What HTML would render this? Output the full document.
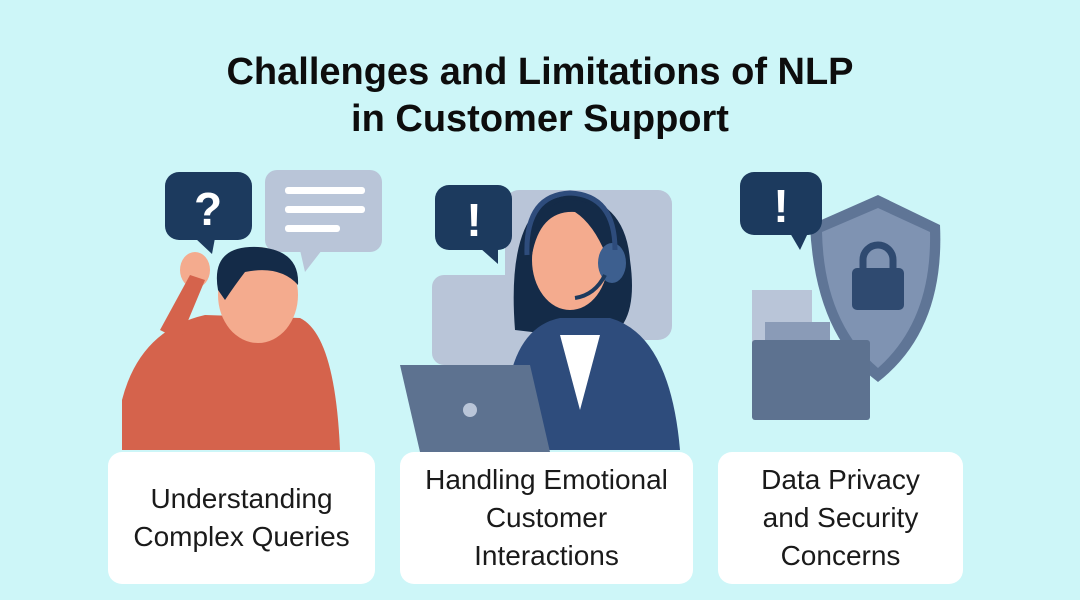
<!DOCTYPE html>
<html><head><meta charset="utf-8"><style>
html,body{margin:0;padding:0}
body{width:1080px;height:600px;background:#cdf6f8;position:relative;overflow:hidden;font-family:"Liberation Sans",sans-serif}
h1{position:absolute;top:49px;left:0;width:1080px;margin:0;text-align:center;font-size:38px;line-height:47px;font-weight:bold;color:#0d0d0d}
.card{position:absolute;top:452px;height:132px;background:#fff;border-radius:14px;display:flex;align-items:center;justify-content:center;text-align:center;font-size:28px;line-height:38px;color:#1a1a1a}
svg{position:absolute;left:0;top:0}
</style></head><body>
<svg width="1080" height="600">
<rect x="265" y="170" width="117" height="82" rx="12" fill="#b9c5d8"/>
<polygon points="300,250 322,250 305,272" fill="#b9c5d8"/>
<rect x="285" y="187" width="80" height="7" rx="3" fill="#fff"/>
<rect x="285" y="206" width="80" height="7" rx="3" fill="#fff"/>
<rect x="285" y="225" width="55" height="7" rx="3" fill="#fff"/>
<rect x="165" y="172" width="87" height="68" rx="14" fill="#1c3a5e"/>
<polygon points="195,238 215,238 212,254" fill="#1c3a5e"/>
<text x="208" y="225" font-size="46" font-weight="bold" fill="#fff" text-anchor="middle" font-family="Liberation Sans">?</text>
<path d="M122,400 Q140,330 205,315 L300,318 Q335,335 340,450 L122,450 Z" fill="#d5634c"/>
<rect x="240" y="310" width="40" height="25" fill="#f2a88a"/>
<ellipse cx="258" cy="295" rx="40" ry="48" fill="#f4ab8e"/>
<path d="M218,290 Q210,245 258,247 Q300,250 298,285 Q280,265 245,272 Q235,285 225,300 Z" fill="#142b48"/>
<ellipse cx="195" cy="270" rx="15" ry="18" fill="#f4ab8e"/>
<path d="M160,330 L190,275 L205,280 L180,340 Z" fill="#d5634c"/>
<rect x="505" y="190" width="167" height="150" rx="14" fill="#b9c5d8"/>
<rect x="432" y="275" width="110" height="90" rx="12" fill="#b9c5d8"/>
<rect x="435" y="185" width="77" height="65" rx="14" fill="#1c3a5e"/>
<polygon points="480,248 498,248 498,264" fill="#1c3a5e"/>
<text x="474" y="236" font-size="46" font-weight="bold" fill="#fff" text-anchor="middle" font-family="Liberation Sans">!</text>
<path d="M515,330 Q505,200 570,195 Q625,200 630,260 Q640,330 600,340 Z" fill="#142b48"/>
<path d="M505,450 Q500,330 560,318 L610,318 Q670,335 680,450 Z" fill="#2e4c7c"/>
<polygon points="560,335 600,335 580,410" fill="#fff"/>
<ellipse cx="570" cy="260" rx="38" ry="50" fill="#f4ab8e"/>
<path d="M532,255 Q540,210 575,212 Q595,225 608,260 L612,230 Q600,198 565,200 Q530,210 530,260 Z" fill="#142b48"/>
<ellipse cx="612" cy="263" rx="14" ry="20" fill="#3d5f8f"/>
<path d="M527,255 Q525,195 570,193 Q615,195 615,250" stroke="#2e4c7c" stroke-width="5" fill="none"/>
<path d="M605,275 Q595,295 575,298" stroke="#1c3a5e" stroke-width="4" fill="none"/>
<polygon points="400,365 530,365 550,452 420,452" fill="#5d7290"/>
<circle cx="470" cy="410" r="7" fill="#b9c5d8"/>
<path d="M810,225 L878,195 L940,225 Q945,330 878,382 Q815,335 810,225 Z" fill="#5f7596"/>
<path d="M822,232 L878,208 L930,232 Q932,320 878,368 Q824,322 822,232 Z" fill="#7f93b2"/>
<path d="M863,270 v-10 a15,15 0 0 1 30,0 v10" stroke="#2f4a70" stroke-width="7" fill="none"/>
<rect x="852" y="268" width="52" height="42" rx="5" fill="#2f4a70"/>
<rect x="752" y="290" width="60" height="80" fill="#b9c5d8"/>
<rect x="765" y="322" width="65" height="25" fill="#8a9bb7"/>
<rect x="752" y="340" width="118" height="80" rx="3" fill="#5d7290"/>
<rect x="740" y="172" width="82" height="63" rx="14" fill="#1c3a5e"/>
<polygon points="790,233 808,233 800,250" fill="#1c3a5e"/>
<text x="781" y="222" font-size="46" font-weight="bold" fill="#fff" text-anchor="middle" font-family="Liberation Sans">!</text>
</svg>
<h1>Challenges and Limitations of NLP<br>in Customer Support</h1>
<div class="card" style="left:108px;width:267px">Understanding<br>Complex Queries</div>
<div class="card" style="left:400px;width:293px">Handling Emotional<br>Customer<br>Interactions</div>
<div class="card" style="left:718px;width:245px">Data Privacy<br>and Security<br>Concerns</div>
</body></html>
